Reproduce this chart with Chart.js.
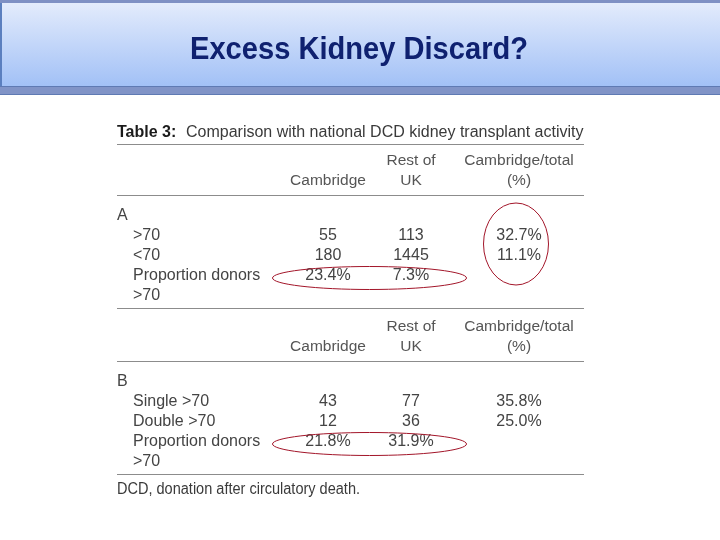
<!DOCTYPE html>
<html><head><meta charset="utf-8">
<script src="https://cdn.jsdelivr.net/npm/chart.js@4/dist/chart.umd.min.js"></script>
<style>html,body{margin:0;padding:0;background:#fff;}#wrap{width:720px;height:540px;}</style>
</head><body><div id="wrap"><canvas id="c" width="720" height="540"></canvas></div>
<script>
// ---------- data ----------
const slideTitle = 'Excess Kidney Discard?';
const captionLabel = 'Table 3:';
const captionText = 'Comparison with national DCD kidney transplant activity';
const columnHeaders = [['', 'Cambridge'], ['Rest of', 'UK'], ['Cambridge/total', '(%)']];
const sectionNames = ['A', 'B'];
const categoriesA = [['>70'], ['<70'], ['Proportion donors', '>70']];
const cambridgeA = [55, 180];
const restOfUKA = [113, 1445];
const shareA = [32.7, 11.1];
const proportionA = [23.4, 7.3];
const categoriesB = [['Single >70'], ['Double >70'], ['Proportion donors', '>70']];
const cambridgeB = [43, 12];
const restOfUKB = [77, 36];
const shareB = [35.8, 25.0];
const proportionB = [21.8, 31.9];
const footnote = 'DCD, donation after circulatory death.';

// ---------- layout (styling) ----------
const LAY = {
  left: 117, right: 584, indent: 133, colX: [328, 411, 519],
  captionY: 137, captionRule: 144, sectionTop: [165, 331], lineH: 20, footY: 494, footW: 243
};
const FONT = '"Liberation Sans", Arial, sans-serif';

function pct(v) { return v.toFixed(1) + '%'; }

function sectionRows(top) {
  return {
    h1: top, h2: top + 20, rule: top + 30, label: top + 55,
    row: i => top + 75 + LAY.lineH * i, bottom: top + 143
  };
}

const sections = [
  {name: sectionNames[0], cats: categoriesA, cam: cambridgeA, ruk: restOfUKA, share: shareA, prop: proportionA},
  {name: sectionNames[1], cats: categoriesB, cam: cambridgeB, ruk: restOfUKB, share: shareB, prop: proportionB}
];

// Build datasets: each text cell is a point placed through the chart scales
const datasets = [];
sections.forEach((s, si) => {
  const R = sectionRows(LAY.sectionTop[si]);
  const hdr = [];
  columnHeaders.forEach((h, ci) => {
    if (h[0]) hdr.push({x: LAY.colX[ci], y: R.h1, t: h[0]});
    hdr.push({x: LAY.colX[ci], y: R.h2, t: h[1]});
  });
  datasets.push({kind: 'header', data: hdr});
  datasets.push({kind: 'section', data: [{x: LAY.left, y: R.label, t: s.name}]});
  const cat = [];
  s.cats.forEach((lines, ri) => {
    lines.forEach((ln, k) => cat.push({x: LAY.indent, y: R.row(ri + k), t: ln}));
  });
  datasets.push({kind: 'category', data: cat});
  const cam = s.cam.map((v, i) => ({x: LAY.colX[0], y: R.row(i), t: String(v)}));
  cam.push({x: LAY.colX[0], y: R.row(2), t: pct(s.prop[0])});
  const ruk = s.ruk.map((v, i) => ({x: LAY.colX[1], y: R.row(i), t: String(v)}));
  ruk.push({x: LAY.colX[1], y: R.row(2), t: pct(s.prop[1])});
  const sh = s.share.map((v, i) => ({x: LAY.colX[2], y: R.row(i), t: pct(v)}));
  datasets.push({kind: 'value', data: cam});
  datasets.push({kind: 'value', data: ruk});
  datasets.push({kind: 'value', data: sh});
});
datasets.forEach(d => { d.pointRadius = 0; d.showLine = false; });

const bannerPlugin = {
  id: 'banner',
  beforeDraw(chart) {
    const ctx = chart.ctx, W = chart.width;
    ctx.save();
    ctx.fillStyle = '#ffffff';
    ctx.fillRect(0, 0, W, chart.height);
    const g = ctx.createLinearGradient(0, 3, 0, 86);
    g.addColorStop(0, '#e3ebfc');
    g.addColorStop(1, '#a2c1f6');
    ctx.fillStyle = g;
    ctx.fillRect(0, 3, W, 83);
    ctx.fillStyle = '#7e90c4';
    ctx.fillRect(0, 0, W, 3);
    ctx.fillStyle = '#8194c7';
    ctx.fillRect(0, 86, W, 8);
    ctx.fillStyle = '#5f7ab3';
    ctx.fillRect(0, 86, W, 1);
    ctx.fillRect(0, 94, W, 1);
    ctx.fillStyle = '#5b7fbf';
    ctx.fillRect(0, 3, 2, 83);
    ctx.fillStyle = '#0f2170';
    ctx.font = 'bold 32px "Liberation Sans Narrow", "Liberation Sans", Arial, sans-serif';
    ctx.textAlign = 'center';
    ctx.textBaseline = 'alphabetic';
    ctx.fillText(slideTitle, 359, 59, 338);
    ctx.restore();
  }
};

const tablePlugin = {
  id: 'table',
  afterDatasetsDraw(chart) {
    const ctx = chart.ctx;
    const xs = chart.scales.x, ys = chart.scales.y;
    const X = v => xs.getPixelForValue(v), Y = v => ys.getPixelForValue(v);
    ctx.save();
    ctx.textBaseline = 'alphabetic';
    ctx.textAlign = 'left';
    ctx.fillStyle = '#1b1b1b';
    ctx.font = 'bold 16px ' + FONT;
    ctx.fillText(captionLabel, X(LAY.left), Y(LAY.captionY));
    ctx.fillStyle = '#3a3a3a';
    ctx.font = '16px ' + FONT;
    ctx.fillText(captionText, X(186), Y(LAY.captionY), X(LAY.right) - X(186));
    ctx.strokeStyle = '#8c8c8c';
    ctx.lineWidth = 1;
    const rule = y => { ctx.beginPath(); ctx.moveTo(X(LAY.left), Math.round(Y(y)) + 0.5); ctx.lineTo(X(LAY.right), Math.round(Y(y)) + 0.5); ctx.stroke(); };
    rule(LAY.captionRule);
    LAY.sectionTop.forEach(t => { const R = sectionRows(t); rule(R.rule); rule(R.bottom); });
    chart.data.datasets.forEach((ds, di) => {
      const meta = chart.getDatasetMeta(di);
      const centered = ds.kind === 'header' || ds.kind === 'value';
      ctx.textAlign = centered ? 'center' : 'left';
      ctx.fillStyle = ds.kind === 'header' ? '#555555' : '#444444';
      ctx.font = (ds.kind === 'header' ? '15.5px ' : '16px ') + FONT;
      meta.data.forEach((el, i) => {
        ctx.fillText(ds.data[i].t, el.x, el.y);
      });
    });
    ctx.textAlign = 'left';
    ctx.fillStyle = '#3a3a3a';
    ctx.font = '16px ' + FONT;
    ctx.fillText(footnote, X(LAY.left), Y(LAY.footY), LAY.footW);
    ctx.strokeStyle = '#a3162a';
    ctx.lineWidth = 1;
    const ell = (cx, cy, rx, ry) => { ctx.beginPath(); ctx.ellipse(cx, cy, rx, ry, 0, 0, Math.PI * 2); ctx.stroke(); };
    LAY.sectionTop.forEach(t => {
      const R = sectionRows(t);
      const cx = (X(LAY.colX[0]) + X(LAY.colX[1])) / 2;
      ell(cx, Y(R.row(2) - 2), 97, 11.5);
    });
    const RA = sectionRows(LAY.sectionTop[0]);
    ell(X(LAY.colX[2] - 3), Y((RA.row(0) + RA.row(1)) / 2 - 6), 32.5, 41);
    ctx.restore();
  }
};

new Chart(document.getElementById('c'), {
  type: 'scatter',
  data: {datasets},
  options: {
    responsive: false, animation: false, events: [],
    layout: {padding: 0},
    plugins: {legend: {display: false}, tooltip: {enabled: false}, title: {display: false}},
    scales: {
      x: {type: 'linear', min: 0, max: 720, display: false},
      y: {type: 'linear', min: 0, max: 540, reverse: true, display: false}
    }
  },
  plugins: [bannerPlugin, tablePlugin]
});
</script></body></html>
